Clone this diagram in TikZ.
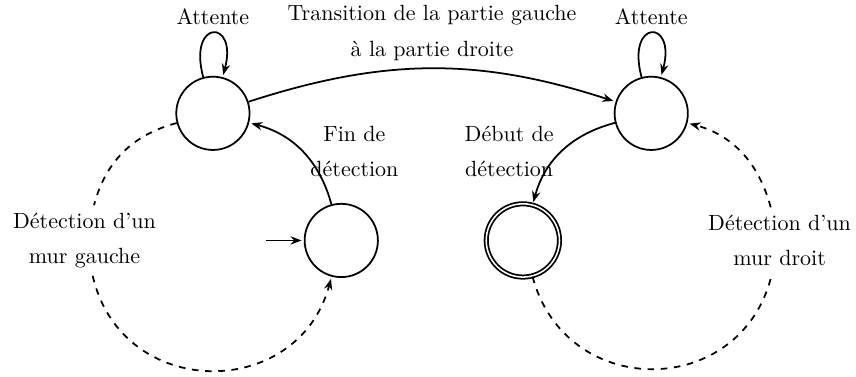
\documentclass[tikz,border=0pt]{standalone}
\usepackage{fontspec}
\usetikzlibrary{arrows.meta, positioning}

\begin{document}
\begin{tikzpicture}[
    on grid,
    >={Stealth[length=5pt]},
    etat/.style={circle, draw, thick, minimum size=1.17cm, inner sep=0pt},
    final/.style={etat, double, double distance=0.7pt},
    lbl/.style={align=center, font=\linespread{1.33}\selectfont},
    trans/.style={->, thick, shorten >=1pt},
    detect/.style={trans, dashed}
  ]
  \useasboundingbox (-3.40,-4.20) rectangle (10.27,1.81);

  % etats
  \node[etat] (gauche) {};
  \node[etat, right=7cm of gauche] (droite) {};
  \node[etat, below right=2.03cm and 2.05cm of gauche] (init) {};
  \node[final, below left=2.03cm and 2.05cm of droite] (debut) {};
  \coordinate[left=1.2cm of init] (entree);

  % detection des murs
  \node[lbl, below left=2.03cm and 2.05cm of gauche] (murg) {Détection d'un\\mur gauche};
  \node[lbl, below right=2.03cm and 2.05cm of droite] (murd) {Détection d'un\\mur droit};

  \draw[trans] (entree) -- (init);

  \path[trans]
    (gauche) edge[loop above] node[above] {Attente} ()
    (droite) edge[loop above] node[above] {Attente} ()
    (gauche) edge[bend left=18] node[lbl, above] {Transition de la partie gauche\\à la partie droite} (droite)
    (init) edge[bend right=30] node[lbl, right] {Fin de\\détection} (gauche)
    (droite) edge[bend right=30] node[lbl, left] {Début de\\détection} (debut);

  \draw[detect] (gauche) to[out=195, in=75] (murg) to[out=-77, in=255, looseness=1.38] (init);
  \draw[detect] (debut) to[out=-75, in=257, looseness=1.38] (murd) to[out=105, in=-15] (droite);
\end{tikzpicture}
\end{document}
